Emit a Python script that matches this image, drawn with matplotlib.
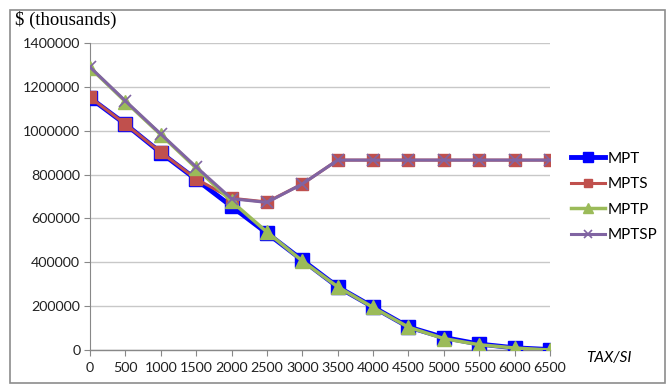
import matplotlib
matplotlib.use("Agg")
import matplotlib.pyplot as plt
from matplotlib.patches import Rectangle

tax_si = ["0", "500", "1000", "1500", "2000", "2500", "3000", "3500",
          "4000", "4500", "5000", "5500", "6000", "6500"]

mpt = [1150000, 1030000, 900000, 778000, 655000, 533000, 410000, 288000,
       196000, 105000, 57000, 27000, 10000, 2000]
mpts = [1152000, 1030000, 902000, 780000, 692000, 675000, 757000, 866000,
        866000, 866000, 866000, 866000, 866000, 866000]
mptp = [1288000, 1133000, 982000, 830000, 678000, 538000, 406000, 288000,
        194000, 104000, 52000, 24000, 9000, 0]
mptsp = [1290000, 1136000, 985000, 835000, 690000, 673000, 757000, 866000,
         866000, 866000, 866000, 866000, 866000, 866000]

plt.rcParams["font.family"] = ["Lato", "DejaVu Sans"]

fig = plt.figure(figsize=(6.66, 3.84), dpi=100)
fig.patches.append(Rectangle((10 / 666, 1 / 384), 655 / 666, 373 / 384,
                             transform=fig.transFigure, fill=False,
                             edgecolor="#8c8c8c", linewidth=1.2))

ax = fig.add_axes([90 / 666, 1 - 350 / 384, 460 / 666, 307 / 384])
x = list(range(len(tax_si)))

ax.plot(x, mpt, color="#0000ff", linewidth=3.5, marker="s", markersize=10,
        markerfacecolor="#0000ff", markeredgecolor="#0000ff", label="MPT", zorder=3)
ax.plot(x, mpts, color="#c0504d", linewidth=2.2, marker="s", markersize=8,
        markerfacecolor="#c0504d", markeredgecolor="#c0504d", label="MPTS", zorder=4)
ax.plot(x, mptp, color="#9bbb59", linewidth=2.5, marker="^", markersize=10,
        markerfacecolor="#9bbb59", markeredgecolor="#9bbb59", label="MPTP", zorder=5)
ax.plot(x, mptsp, color="#8064a2", linewidth=2.2, marker="x", markersize=9,
        markeredgewidth=1.2, markeredgecolor="#8064a2", label="MPTSP", zorder=6)

ax.set_xlim(0, 13)
ax.set_ylim(0, 1400000)
ax.set_yticks(range(0, 1400001, 200000))
ax.set_yticklabels([str(v) for v in range(0, 1400001, 200000)])
ax.set_xticks(x)
ax.set_xticklabels(tax_si)
ax.tick_params(axis="both", labelsize=10.3, length=4, width=0.8)
ax.tick_params(axis="x", pad=5, colors="#888888", labelcolor="#222222")
ax.tick_params(axis="y", colors="#888888", labelcolor="#222222", pad=3)
ax.grid(axis="y", color="#c8c8c8", linewidth=1)
ax.set_axisbelow(True)
for s in ["top", "right"]:
    ax.spines[s].set_visible(False)
for s in ["left", "bottom"]:
    ax.spines[s].set_color("#888888")
ax.spines["left"].set_linewidth(0.8)
ax.spines["bottom"].set_linewidth(1.0)

fig.text(15 / 666, 1 - 20 / 384, "$ (thousands)", family="Liberation Serif",
         fontsize=13.5, ha="left", va="center")
fig.text(609 / 666, 1 - 358 / 384, "TAX/SI", style="italic", fontsize=11,
         ha="center", va="center")

fig.legend(loc="center left", bbox_to_anchor=(565 / 666, 1 - 197 / 384),
           frameon=False, fontsize=11, handlelength=2.2, handletextpad=0.2,
           labelspacing=0.75, borderaxespad=0, markerscale=0.7)

fig.savefig("out.png", dpi=100)
